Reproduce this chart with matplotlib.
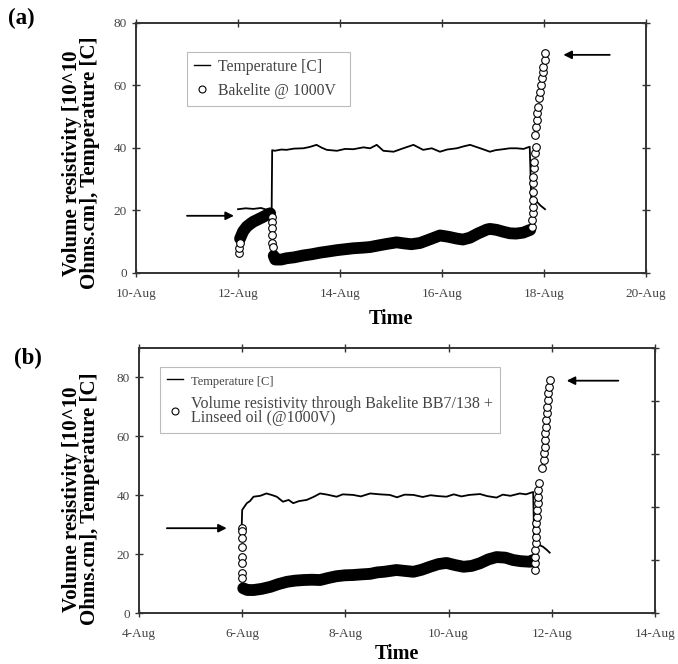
import matplotlib
matplotlib.use("Agg")
import matplotlib.pyplot as plt
from matplotlib.lines import Line2D

plt.rcParams['font.family'] = ['Liberation Serif', 'DejaVu Serif']

# ---------------- panel (a) data (x = day of August) ----------------
a_temp_t = [12.0, 12.15, 12.3, 12.45, 12.55, 12.66, 12.67, 12.72, 12.85, 12.95, 13.1, 13.28,
            13.4, 13.54, 13.64, 13.74, 13.94, 14.1, 14.26, 14.46, 14.59, 14.72, 14.85, 15.05,
            15.24, 15.44, 15.63, 15.8, 15.96, 16.1, 16.29, 16.42, 16.55, 16.75, 16.94, 17.05,
            17.2, 17.33, 17.46, 17.6, 17.72, 17.75, 17.86, 17.93, 18.02]
a_temp_v = [20.4, 20.7, 20.5, 20.8, 20.3, 20.5, 39.3, 39.1, 39.5, 39.4, 39.8, 39.9,
            40.3, 41.0, 40.1, 39.4, 39.1, 39.7, 39.6, 40.2, 39.9, 41.0, 39.1, 38.8,
            39.9, 41.0, 39.4, 39.9, 38.8, 39.5, 39.9, 40.5, 41.0, 39.9, 38.8, 39.3,
            39.6, 39.9, 39.9, 39.7, 40.4, 24.0, 22.8, 21.6, 20.4]

a_band_t = [12.04, 12.10, 12.17, 12.24, 12.30, 12.40, 12.50, 12.63]
a_band_v = [11.0, 13.3, 14.8, 15.7, 16.4, 17.2, 18.0, 19.1]
a_band2_t = [12.70, 12.73, 12.85, 12.95, 13.1, 13.28, 13.45, 13.61, 13.78, 13.94, 14.1, 14.26,
             14.45, 14.59, 14.75, 14.92, 15.11, 15.24, 15.4, 15.57, 15.8, 15.96, 16.12,
             16.29, 16.41, 16.55, 16.7, 16.88, 16.94, 17.07, 17.2, 17.33, 17.45, 17.59, 17.73]
a_band2_v = [5.5, 4.3, 4.3, 4.7, 5.0, 5.6, 6.0, 6.5, 6.9, 7.3, 7.6, 7.9,
             8.1, 8.3, 8.8, 9.3, 9.8, 9.5, 9.2, 9.6, 11.0, 12.0, 11.6,
             11.0, 10.7, 11.3, 12.6, 13.9, 14.1, 13.8, 13.2, 12.7, 12.6, 12.9, 13.8]

a_circ_t = [12.02, 12.02, 12.03, 12.66, 12.66, 12.67, 12.67, 12.67, 12.68,
            17.76, 17.77, 17.78, 17.78, 17.78, 17.78, 17.79, 17.79, 17.80, 17.81, 17.82, 17.84,
            17.83, 17.84, 17.86, 17.87, 17.89, 17.91, 17.92, 17.95, 17.97, 17.98, 17.99, 18.02, 18.02]
a_circ_v = [6.3, 7.9, 9.5, 18.0, 16.4, 14.3, 12.2, 9.5, 8.4,
            14.8, 17.0, 19.1, 21.2, 23.4, 26.0, 28.7, 30.8, 33.5, 35.6, 38.3, 40.4,
            44.2, 46.8, 49.0, 51.1, 53.2, 55.9, 58.0, 60.2, 62.3, 64.4, 66.0, 68.2, 70.3]

a_xticks = [10, 12, 14, 16, 18, 20]
a_xlabels = ['10-Aug', '12-Aug', '14-Aug', '16-Aug', '18-Aug', '20-Aug']
a_yticks = [0, 20, 40, 60, 80]
a_arrows = [((11.92, 18.3), (11.0, 18.3)), ((18.38, 69.8), (19.29, 69.8))]

# ---------------- panel (b) data ----------------
b_temp_t = [5.99, 6.0, 6.05, 6.09, 6.15, 6.22, 6.35, 6.47, 6.57, 6.67, 6.79, 6.9, 6.99,
            7.1, 7.25, 7.38, 7.51, 7.65, 7.83, 7.95, 8.15, 8.3, 8.48, 8.67, 8.86, 9.0,
            9.15, 9.32, 9.5, 9.65, 9.8, 9.96, 10.1, 10.25, 10.4, 10.61, 10.75, 10.93,
            11.05, 11.2, 11.38, 11.5, 11.64, 11.66, 11.83, 11.9, 11.96]
b_temp_v = [29.0, 35.0, 36.3, 37.3, 38.0, 39.5, 39.8, 40.6, 40.1, 39.5, 37.8, 38.4, 37.3,
            38.0, 38.4, 39.4, 40.6, 40.2, 39.5, 40.3, 40.1, 39.6, 40.6, 40.3, 40.1, 39.3,
            40.2, 40.1, 39.4, 40.0, 39.7, 39.5, 40.3, 39.6, 40.1, 40.4, 39.7, 39.2,
            40.2, 39.8, 40.6, 40.3, 41.1, 24.0, 22.5, 21.5, 20.5]

b_band_t = [6.02, 6.1, 6.22, 6.38, 6.55, 6.7, 6.87, 7.03, 7.19, 7.35, 7.51, 7.67, 7.83,
            7.99, 8.15, 8.3, 8.48, 8.62, 8.75, 8.99, 9.15, 9.32, 9.48, 9.64, 9.8, 9.96,
            10.12, 10.29, 10.45, 10.61, 10.77, 10.93, 11.1, 11.25, 11.4, 11.58, 11.64]
b_band_v = [8.4, 7.8, 7.8, 8.2, 8.9, 9.8, 10.6, 11.0, 11.2, 11.3, 11.2, 11.9, 12.5,
            12.8, 12.9, 13.1, 13.3, 13.8, 14.0, 14.6, 14.3, 14.0, 14.7, 15.7, 16.6, 17.0,
            16.3, 15.7, 16.0, 16.9, 18.2, 19.0, 18.8, 18.0, 17.6, 17.4, 18.0]

b_circ_t = [5.99, 5.99, 5.99, 5.99, 6.0, 6.0, 6.0, 6.0,
            11.67, 11.67, 11.68, 11.68, 11.69, 11.69, 11.70, 11.70, 11.71, 11.72, 11.73,
            11.74, 11.74, 11.75, 11.82, 11.84, 11.85, 11.86, 11.87, 11.87, 11.88, 11.89,
            11.90, 11.91, 11.92, 11.93, 11.94, 11.96]
b_circ_v = [28.8, 28.0, 25.4, 22.5, 19.1, 16.9, 13.5, 11.8,
            14.6, 16.9, 19.1, 21.4, 23.7, 25.9, 28.2, 30.5, 32.7, 35.0, 37.3,
            39.5, 41.8, 44.0, 49.1, 52.0, 54.2, 56.5, 58.8, 61.0, 63.3, 65.5,
            67.8, 70.1, 72.3, 74.6, 76.9, 79.1]

b_xticks = [4, 6, 8, 10, 12, 14]
b_xlabels = ['4-Aug', '6-Aug', '8-Aug', '10-Aug', '12-Aug', '14-Aug']
b_yticks = [0, 20, 40, 60, 80]
b_right_ticks = [0, 20, 40, 60, 80, 100]
b_arrows = [((5.70, 28.8), (4.54, 28.8)), ((12.29, 78.9), (13.29, 78.9))]

ylab = 'Volume resistivity [10^10\nOhms.cm], Temperature [C]'
spine_c = '#333333'

fig = plt.figure(figsize=(6.78, 6.64), dpi=100)


def style_axes(ax, xticks, xlabels, yticks, right_ticks, right_lim):
    ax.set_xticks(xticks)
    ax.set_xticklabels(xlabels)
    ax.set_yticks(yticks)
    ax.set_yticklabels([str(v) for v in yticks])
    ax.tick_params(axis='both', direction='inout', length=6, width=1, color=spine_c,
                   labelsize=9.5, labelcolor='#444444', top=True)
    ax.tick_params(axis='x', pad=8)
    for s in ax.spines.values():
        s.set_linewidth(1.4)
        s.set_color(spine_c)
    ax2 = ax.twinx()
    ax2.set_ylim(0, right_lim)
    ax2.set_yticks(right_ticks)
    ax2.set_yticklabels([])
    ax2.tick_params(axis='y', direction='inout', length=6, width=1, color=spine_c)
    for s in ax2.spines.values():
        s.set_visible(False)


def draw_panel(ax, temp_t, temp_v, bands, circ_t, circ_v, arrows, labels, leg_bbox, leg_size):
    ax.plot(temp_t, temp_v, color='k', lw=1.3, zorder=3)
    for bt, bv in bands:
        ax.plot(bt, bv, color='k', lw=8.5, solid_capstyle='round', solid_joinstyle='round', zorder=2)
    ax.plot(circ_t, circ_v, ls='none', marker='o', ms=5.5, mfc='white', mec='k', mew=0.8, zorder=4)
    for tip, tail in arrows:
        ax.annotate('', xy=tip, xytext=tail,
                    arrowprops=dict(arrowstyle='-|>', color='k', lw=1.3,
                                    mutation_scale=12, shrinkA=0, shrinkB=0),
                    annotation_clip=False)
    h1 = Line2D([], [], color='k', lw=1.0)
    h2 = Line2D([], [], ls='none', marker='o', ms=5, mfc='white', mec='k', mew=0.8)
    leg = ax.legend([h1, h2], labels, loc='upper left', bbox_to_anchor=leg_bbox,
                    borderaxespad=0, frameon=True, fancybox=False, framealpha=1,
                    edgecolor='#bbbbbb', fontsize=leg_size, handlelength=1.0,
                    handletextpad=0.5, borderpad=0.45, labelspacing=0.5)
    leg.get_frame().set_linewidth(0.8)
    for t in leg.get_texts():
        t.set_color('#444444')
    return leg


# panel (a)
axa = fig.add_axes([0.2006, 0.5889, 0.7522, 0.3765])
draw_panel(axa, a_temp_t, a_temp_v, [(a_band_t, a_band_v), (a_band2_t, a_band2_v)],
           a_circ_t, a_circ_v, a_arrows, ['Temperature [C]', 'Bakelite @ 1000V  '],
           (0.10, 0.885), 11.3)
axa.set_xlim(10, 20)
axa.set_ylim(0, 80)
style_axes(axa, a_xticks, a_xlabels, a_yticks, a_yticks, 80)
axa.set_xlabel('Time', fontsize=14.5, fontweight='bold', labelpad=6)
axa.set_ylabel(ylab, fontsize=15, fontweight='bold', linespacing=0.85)
axa.yaxis.set_label_coords(-0.071, 0.44)
fig.text(0.012, 0.972, '(a)', fontsize=16.5, fontweight='bold', va='center')

# panel (b)
axb = fig.add_axes([0.205, 0.0768, 0.761, 0.3991])
legb = draw_panel(axb, b_temp_t, b_temp_v, [(b_band_t, b_band_v)],
                  b_circ_t, b_circ_v, b_arrows,
                  ['Temperature [C]', 'Volume resistivity through Bakelite BB7/138 +\nLinseed oil (@1000V)'],
                  (0.04, 0.93), 11.5)
legb.get_texts()[0].set_fontsize(9.0)
legb.get_texts()[1].set_linespacing(0.85)
axb.set_xlim(4, 14)
axb.set_ylim(0, 90)
style_axes(axb, b_xticks, b_xlabels, b_yticks, b_right_ticks, 100)
axb.set_xlabel('Time', fontsize=14.5, fontweight='bold', labelpad=3)
axb.set_ylabel(ylab, fontsize=15, fontweight='bold', linespacing=0.85)
axb.yaxis.set_label_coords(-0.076, 0.43)
fig.text(0.02, 0.46, '(b)', fontsize=16.5, fontweight='bold', va='center')

fig.savefig('out.png', dpi=100)
